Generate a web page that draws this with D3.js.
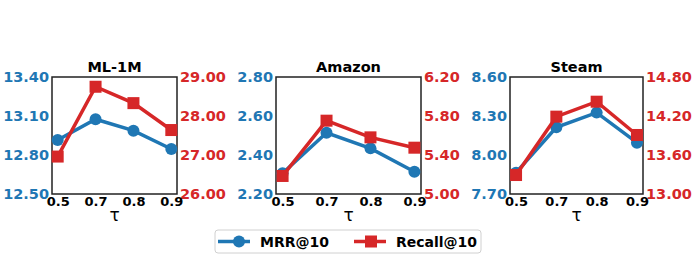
<!DOCTYPE html>
<html>
<head>
<meta charset="utf-8">
<script src="https://cdn.jsdelivr.net/npm/d3@7"></script>
<style>
  body { margin:0; background:#fff; }
  svg text { font-family:"DejaVu Sans", sans-serif; font-weight:bold; }
</style>
</head>
<body>
<div id="plot"></div>
<script>
// data
var taus = ['0.5', '0.7', '0.8', '0.9'];
var datasets = ['ML-1M', 'Amazon', 'Steam'];

var mrr_ml = [12.915, 13.075, 12.987, 12.846];
var recall_ml = [26.96, 28.75, 28.33, 27.64];
var mrr_amazon = [2.306, 2.514, 2.434, 2.314];
var recall_amazon = [5.185, 5.752, 5.581, 5.475];
var mrr_steam = [7.864, 8.213, 8.326, 8.095];
var recall_steam = [13.292, 14.19, 14.42, 13.908];

var leftTicks = [[12.5, 12.8, 13.1, 13.4], [2.2, 2.4, 2.6, 2.8], [7.7, 8.0, 8.3, 8.6]];
var rightTicks = [[26, 27, 28, 29], [5.0, 5.4, 5.8, 6.2], [13.0, 13.6, 14.2, 14.8]];
var seriesNames = ['MRR@10', 'Recall@10'];

var mrrAll = [mrr_ml, mrr_amazon, mrr_steam];
var recallAll = [recall_ml, recall_amazon, recall_steam];

var blue = '#1f77b4', red = '#d62728';

// panel boxes (left, right edges in px), common top / bottom
var boxes = [[52, 177], [276, 421], [510, 643]];
var plotTop = 77, plotBottom = 194;

var svg = d3.select('#plot').append('svg')
    .attr('width', 698).attr('height', 261);

datasets.forEach(function(name, i) {
    var l = boxes[i][0], r = boxes[i][1];
    var g = svg.append('g');

    // categories equally spaced, 5% margin each side like matplotlib
    var x = d3.scaleLinear().domain([-0.15, taus.length - 1 + 0.15]).range([l, r]);
    var lt = leftTicks[i], rt = rightTicks[i];
    var yL = d3.scaleLinear().domain([lt[0], lt[lt.length-1]]).range([plotBottom, plotTop]);
    var yR = d3.scaleLinear().domain([rt[0], rt[rt.length-1]]).range([plotBottom, plotTop]);

    // left axis
    var ax = g.append('g').attr('transform', 'translate(' + l + ',0)')
        .call(d3.axisLeft(yL).tickValues(lt).tickSize(0).tickPadding(3).tickFormat(d3.format('.2f')));
    ax.select('.domain').remove();
    ax.selectAll('text').attr('fill', blue).style('font-size', '14.5px');

    // right axis
    var ax2 = g.append('g').attr('transform', 'translate(' + r + ',0)')
        .call(d3.axisRight(yR).tickValues(rt).tickSize(0).tickPadding(3).tickFormat(d3.format('.2f')));
    ax2.select('.domain').remove();
    ax2.selectAll('text').attr('fill', red).style('font-size', '14.5px');

    // bottom axis
    var ax3 = g.append('g').attr('transform', 'translate(0,' + plotBottom + ')')
        .call(d3.axisBottom(x).tickValues(d3.range(taus.length)).tickSize(0).tickPadding(3)
            .tickFormat(function(k) { return taus[k]; }));
    ax3.select('.domain').remove();
    ax3.selectAll('text').attr('fill', '#000').style('font-size', '13px');

    // box
    g.append('rect').attr('x', l).attr('y', plotTop)
        .attr('width', r - l).attr('height', plotBottom - plotTop)
        .attr('fill', 'none').attr('stroke', '#222').attr('stroke-width', 1.5);

    // title and x label
    g.append('text').attr('x', (l + r) / 2).attr('y', 72)
        .attr('text-anchor', 'middle').style('font-size', '14.5px').text(name);
    g.append('text').attr('x', (l + r) / 2).attr('y', 221)
        .attr('text-anchor', 'middle').style('font-size', '17px')
        .style('font-weight', 'normal').text('τ');

    // MRR line
    var lineL = d3.line().x(function(d, k) { return x(k); }).y(function(d) { return yL(d); });
    g.append('path').datum(mrrAll[i]).attr('d', lineL)
        .attr('fill', 'none').attr('stroke', blue).attr('stroke-width', 3.5);
    g.selectAll('.dot').data(mrrAll[i]).enter().append('circle')
        .attr('cx', function(d, k) { return x(k); })
        .attr('cy', function(d) { return yL(d); })
        .attr('r', 6).attr('fill', blue);

    // Recall line
    var lineR = d3.line().x(function(d, k) { return x(k); }).y(function(d) { return yR(d); });
    g.append('path').datum(recallAll[i]).attr('d', lineR)
        .attr('fill', 'none').attr('stroke', red).attr('stroke-width', 3.5);
    g.selectAll('.sq').data(recallAll[i]).enter().append('rect')
        .attr('x', function(d, k) { return x(k) - 6; })
        .attr('y', function(d) { return yR(d) - 6; })
        .attr('width', 12).attr('height', 12).attr('fill', red);
});

// legend
var lg = svg.append('g');
lg.append('rect').attr('x', 215).attr('y', 230).attr('width', 266).attr('height', 23)
    .attr('rx', 3).attr('fill', '#fff').attr('stroke', '#d0d0d0').attr('stroke-width', 1);
var ly = 241.5;
lg.append('line').attr('x1', 218).attr('x2', 250).attr('y1', ly).attr('y2', ly)
    .attr('stroke', blue).attr('stroke-width', 3.5);
lg.append('circle').attr('cx', 239).attr('cy', ly).attr('r', 6).attr('fill', blue);
lg.append('text').attr('x', 260).attr('y', ly + 5).style('font-size', '14px').text(seriesNames[0]);
lg.append('line').attr('x1', 354).attr('x2', 386).attr('y1', ly).attr('y2', ly)
    .attr('stroke', red).attr('stroke-width', 3.5);
lg.append('rect').attr('x', 365).attr('y', ly - 6).attr('width', 12).attr('height', 12).attr('fill', red);
lg.append('text').attr('x', 396).attr('y', ly + 5).style('font-size', '14px').text(seriesNames[1]);
</script>
</body>
</html>
